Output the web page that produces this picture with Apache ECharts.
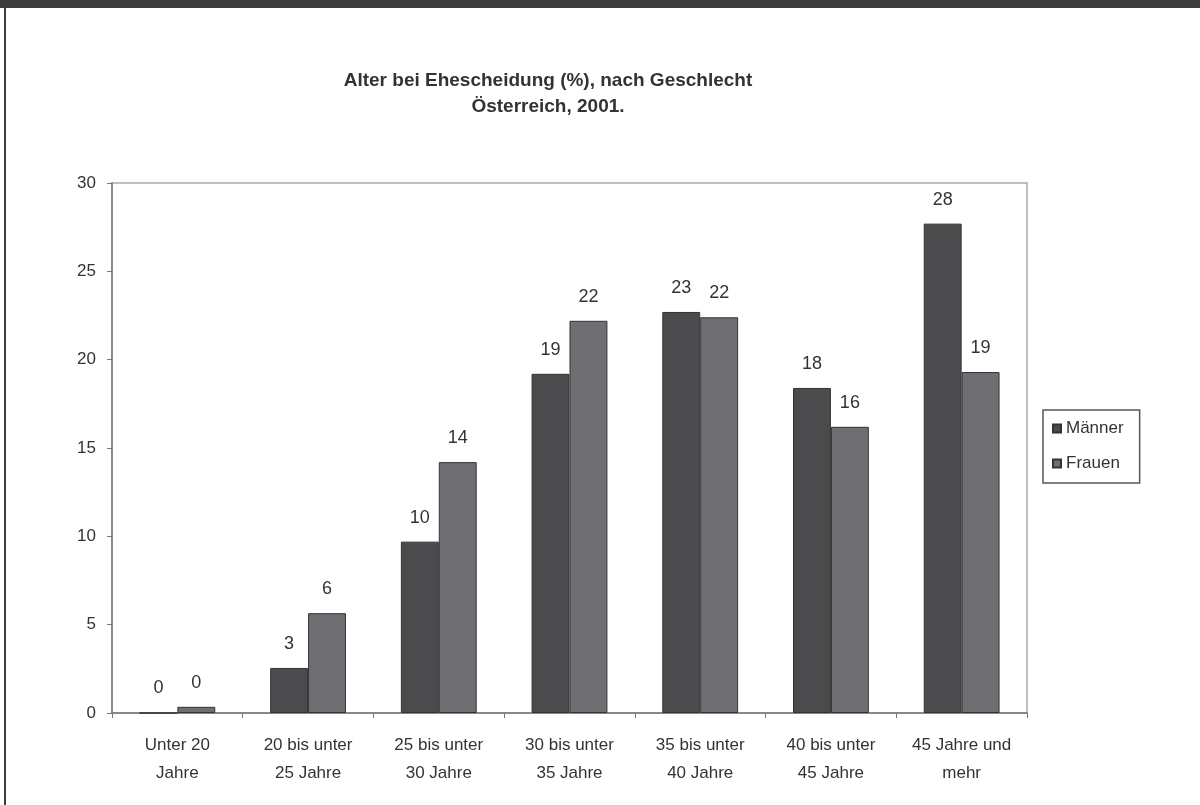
<!DOCTYPE html>
<html>
<head>
<meta charset="utf-8">
<script src="https://cdn.jsdelivr.net/npm/echarts@6/dist/echarts.min.js"></script>
<style>
html,body{margin:0;padding:0;background:#fff;}
#chart{width:1200px;height:805px;}
</style>
</head>
<body>
<div id="chart"></div>
<script>
const categories = ["Unter 20\nJahre", "20 bis unter\n25 Jahre", "25 bis unter\n30 Jahre", "30 bis unter\n35 Jahre", "35 bis unter\n40 Jahre", "40 bis unter\n45 Jahre", "45 Jahre und\nmehr"];
const maenner = [0.0, 2.55, 9.7, 19.2, 22.7, 18.4, 27.7];
const frauen = [0.35, 5.65, 14.2, 22.2, 22.4, 16.2, 19.3];
const seriesNames = ["Männer", "Frauen"];
const yTicks = {min: 0, max: 30, interval: 5};

const FONT = "'Liberation Sans', Arial, sans-serif";
const chart = echarts.init(document.getElementById('chart'), null, {renderer: 'canvas'});
const labelCfg = {
  show: true, position: 'top', distance: 15,
  color: '#333', fontSize: 18, fontFamily: FONT,
  formatter: p => Math.round(p.value)
};
chart.setOption({
  animation: false,
  backgroundColor: '#fff',
  textStyle: {fontFamily: FONT},
  graphic: [
    {type: 'rect', shape: {x: 0, y: 0, width: 1200, height: 8}, style: {fill: '#3d3d3d'}, silent: true},
    {type: 'rect', shape: {x: 4, y: 0, width: 2, height: 805}, style: {fill: '#3d3d3d'}, silent: true}
  ],
  title: {
    text: 'Alter bei Ehescheidung (%), nach Geschlecht\nÖsterreich, 2001.',
    left: 543, textAlign: 'center', top: 63,
    textStyle: {fontSize: 19, fontWeight: 'bold', color: '#333', lineHeight: 26, fontFamily: FONT}
  },
  legend: {
    orient: 'vertical',
    left: 1043, top: 410,
    itemWidth: 8, itemHeight: 8, itemGap: 18,
    icon: 'rect',
    borderColor: '#555', borderWidth: 1.5,
    padding: [10, 16, 11, 9],
    textStyle: {fontSize: 17, color: '#333', fontFamily: FONT},
    data: seriesNames
  },
  grid: {
    left: 112, right: 173, top: 183, bottom: 92,
    show: true, borderColor: '#aaa', borderWidth: 1.5, backgroundColor: 'transparent'
  },
  xAxis: {
    type: 'category',
    data: categories,
    boundaryGap: true,
    axisLine: {lineStyle: {color: '#777', width: 1.5}},
    axisTick: {show: true, length: 5, lineStyle: {color: '#777'}},
    axisLabel: {color: '#333', fontSize: 17, lineHeight: 28, margin: 18, interval: 0, fontFamily: FONT},
    splitLine: {show: false}
  },
  yAxis: {
    type: 'value',
    min: yTicks.min, max: yTicks.max, interval: yTicks.interval,
    axisLine: {show: true, lineStyle: {color: '#777', width: 1.5}},
    axisTick: {show: true, length: 5, lineStyle: {color: '#777'}},
    axisLabel: {color: '#333', fontSize: 17, margin: 16, fontFamily: FONT},
    splitLine: {show: false}
  },
  series: [
    {
      name: seriesNames[0], type: 'bar', data: maenner,
      barGap: '0%', barCategoryGap: '42%',
      itemStyle: {color: '#4b4b4e', borderColor: '#333', borderWidth: 1},
      label: labelCfg
    },
    {
      name: seriesNames[1], type: 'bar', data: frauen,
      barGap: '0%', barCategoryGap: '42%',
      itemStyle: {color: '#6f6f73', borderColor: '#333', borderWidth: 1},
      label: labelCfg
    }
  ]
});
</script>
</body>
</html>
